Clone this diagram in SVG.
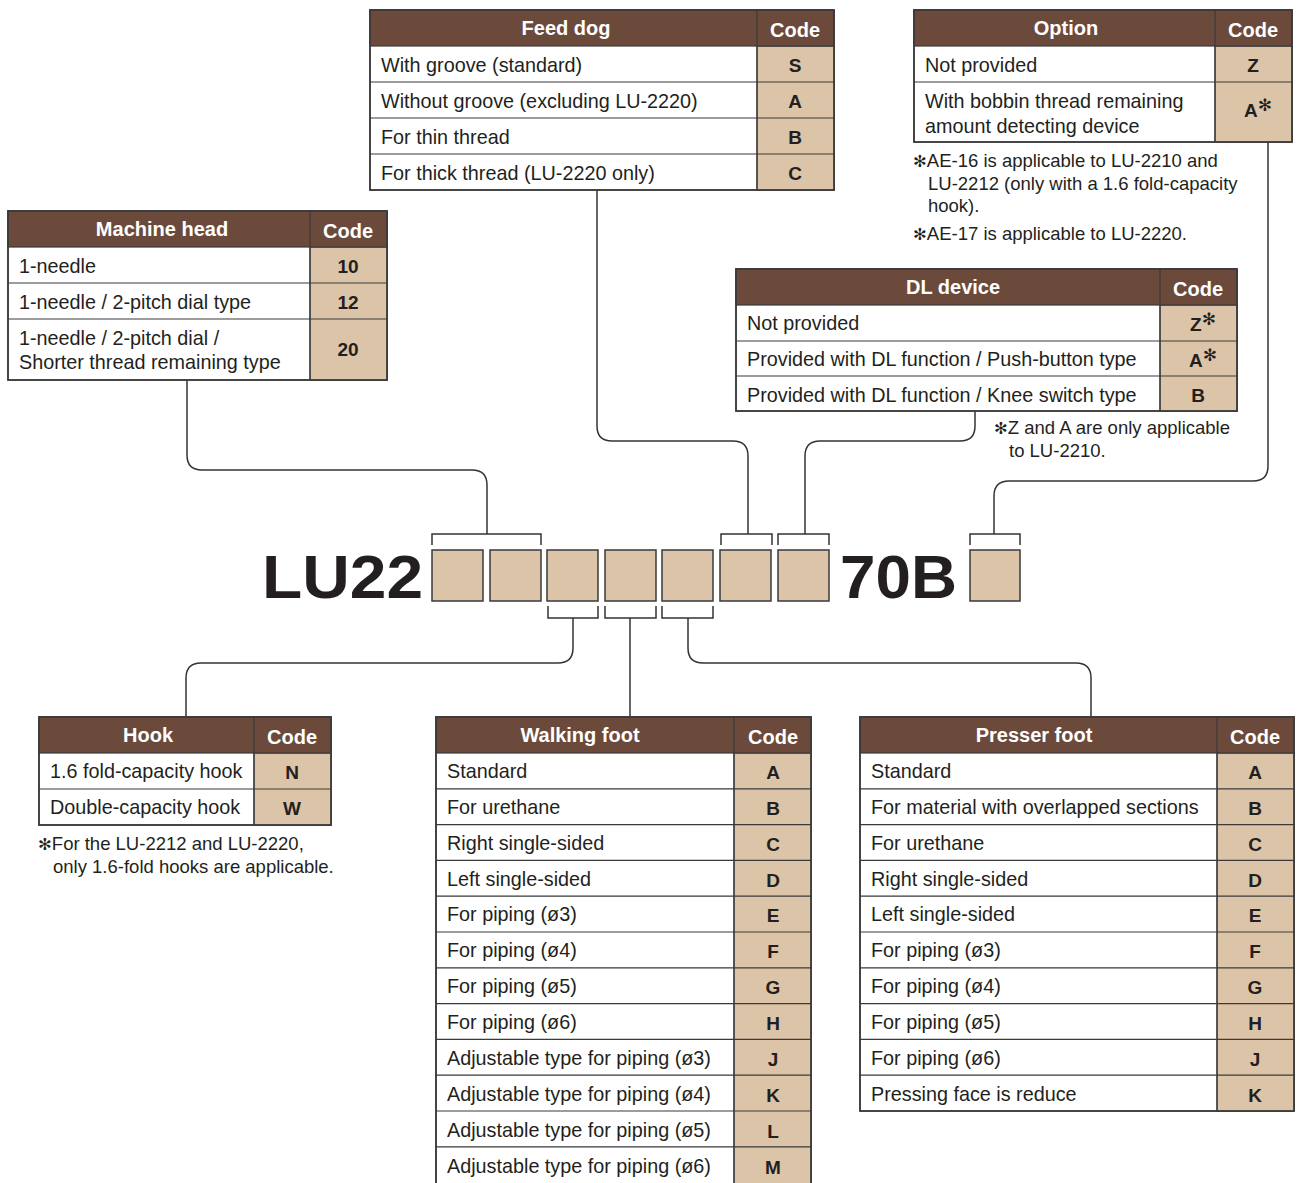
<svg xmlns="http://www.w3.org/2000/svg" width="1297" height="1183" viewBox="0 0 1297 1183">
<style>
text{font-family:"Liberation Sans",Arial,sans-serif;fill:#231f20}
.tb{fill:#fff;stroke:#3a3a3a;stroke-width:1.5}
.hd{fill:#6b4a3c;stroke:#3a3a3a;stroke-width:1.2}
.cd{fill:#dcc4a8;stroke:#3a3a3a;stroke-width:1.2}
.ln{stroke:#3a3a3a;stroke-width:1.2;fill:none}
.ht{font-size:20px;font-weight:bold;fill:#fff;text-anchor:middle}
.bt{font-size:19.8px}
.ct{font-size:19px;font-weight:bold;text-anchor:middle}
.nt{font-size:18.5px}
.ast{font-family:"DejaVu Sans",sans-serif}
.box{fill:#dcc4a8;stroke:#3a3a3a;stroke-width:1.5}
.big{font-size:62px;font-weight:bold;fill:#231f20}
#connectors path{fill:none;stroke:#333;stroke-width:1.5}
</style>

<g id="connectors">
<path d="M187,380 V455 Q187,470 202,470 H472 Q487,470 487,485 V534"/>
<path d="M432,545 V534 H541 V545"/>
<path d="M597,190 V426 Q597,441 612,441 H733 Q748,441 748,456 V534"/>
<path d="M721,545 V534 H772 V545"/>
<path d="M975,411 V426 Q975,441 960,441 H820 Q805,441 805,456 V534"/>
<path d="M778,545 V534 H829 V545"/>
<path d="M1268,142 V466 Q1268,481 1253,481 H1009 Q994,481 994,496 V534"/>
<path d="M970,545 V534 H1020 V545"/>
<path d="M548,606 V618 H598 V606"/>
<path d="M573,618 V648 Q573,663 558,663 H201 Q186,663 186,678 V717"/>
<path d="M605,606 V618 H656 V606"/>
<path d="M630,618 V717"/>
<path d="M662,606 V618 H713 V606"/>
<path d="M688,618 V648 Q688,663 703,663 H1076 Q1091,663 1091,678 V717"/>
</g>

<g id="model">
<text class="big" x="262" y="598" textLength="161" lengthAdjust="spacingAndGlyphs">LU22</text>
<rect class="box" x="432" y="550" width="51" height="51"/>
<rect class="box" x="490" y="550" width="51" height="51"/>
<rect class="box" x="547" y="550" width="51" height="51"/>
<rect class="box" x="605" y="550" width="51" height="51"/>
<rect class="box" x="662" y="550" width="51" height="51"/>
<rect class="box" x="720" y="550" width="51" height="51"/>
<rect class="box" x="778" y="550" width="51" height="51"/>
<text class="big" x="840" y="598" textLength="117" lengthAdjust="spacingAndGlyphs">70B</text>
<rect class="box" x="970" y="550" width="50" height="51"/>
</g>

<g id="feed-dog">
<rect class="tb" x="370" y="10" width="464" height="180"/>
<rect class="cd" x="757" y="46" width="77" height="144"/>
<rect class="hd" x="370" y="10" width="464" height="36"/>
<path class="ln" d="M757,10 V190 M370,82 H834 M370,118 H834 M370,154 H834"/>
<rect x="370" y="10" width="464" height="180" fill="none" stroke="#3a3a3a" stroke-width="1.5"/>
<text class="ht" x="566" y="35">Feed dog</text>
<text class="ht" x="795" y="37">Code</text>
<text class="bt" x="381" y="72">With groove (standard)</text>
<text class="bt" x="381" y="108">Without groove (excluding LU-2220)</text>
<text class="bt" x="381" y="144">For thin thread</text>
<text class="bt" x="381" y="180">For thick thread (LU-2220 only)</text>
<text class="ct" x="795" y="72">S</text>
<text class="ct" x="795" y="108">A</text>
<text class="ct" x="795" y="144">B</text>
<text class="ct" x="795" y="180">C</text>
</g>

<g id="option">
<rect class="tb" x="914" y="10" width="378" height="132"/>
<rect class="cd" x="1215" y="46" width="77" height="96"/>
<rect class="hd" x="914" y="10" width="378" height="36"/>
<path class="ln" d="M1215,10 V142 M914,82 H1292"/>
<rect x="914" y="10" width="378" height="132" fill="none" stroke="#3a3a3a" stroke-width="1.5"/>
<text class="ht" x="1066" y="35">Option</text>
<text class="ht" x="1253" y="37">Code</text>
<text class="bt" x="925" y="72">Not provided</text>
<text class="bt" x="925" y="108">With bobbin thread remaining</text>
<text class="bt" x="925" y="133">amount detecting device</text>
<text class="ct" x="1253" y="72">Z</text>
<text class="ct" x="1258" y="117">A<tspan class="ast" font-size="17" dy="-6">✻</tspan></text>
<text class="nt" x="913" y="167"><tspan class="ast" font-size="16.5">✻</tspan>AE-16 is applicable to LU-2210 and</text>
<text class="nt" x="928" y="190">LU-2212 (only with a 1.6 fold-capacity</text>
<text class="nt" x="928" y="212">hook).</text>
<text class="nt" x="913" y="240"><tspan class="ast" font-size="16.5">✻</tspan>AE-17 is applicable to LU-2220.</text>
</g>

<g id="machine-head">
<rect class="tb" x="8" y="211" width="379" height="169"/>
<rect class="cd" x="310" y="247" width="77" height="133"/>
<rect class="hd" x="8" y="211" width="379" height="36"/>
<path class="ln" d="M310,211 V380 M8,283 H387 M8,319 H387"/>
<rect x="8" y="211" width="379" height="169" fill="none" stroke="#3a3a3a" stroke-width="1.5"/>
<text class="ht" x="162" y="236">Machine head</text>
<text class="ht" x="348" y="238">Code</text>
<text class="bt" x="19" y="273">1-needle</text>
<text class="bt" x="19" y="309">1-needle / 2-pitch dial type</text>
<text class="bt" x="19" y="345">1-needle / 2-pitch dial /</text>
<text class="bt" x="19" y="369">Shorter thread remaining type</text>
<text class="ct" x="348" y="273">10</text>
<text class="ct" x="348" y="309">12</text>
<text class="ct" x="348" y="356">20</text>
</g>

<g id="dl-device">
<rect class="tb" x="736" y="269" width="501" height="142"/>
<rect class="cd" x="1160" y="305" width="77" height="106"/>
<rect class="hd" x="736" y="269" width="501" height="36"/>
<path class="ln" d="M1160,269 V411 M736,341 H1237 M736,376 H1237"/>
<rect x="736" y="269" width="501" height="142" fill="none" stroke="#3a3a3a" stroke-width="1.5"/>
<text class="ht" x="953" y="294">DL device</text>
<text class="ht" x="1198" y="296">Code</text>
<text class="bt" x="747" y="330">Not provided</text>
<text class="bt" x="747" y="366">Provided with DL function / Push-button type</text>
<text class="bt" x="747" y="402">Provided with DL function / Knee switch type</text>
<text class="ct" x="1203" y="331">Z<tspan class="ast" font-size="17" dy="-6">✻</tspan></text>
<text class="ct" x="1203" y="367">A<tspan class="ast" font-size="17" dy="-6">✻</tspan></text>
<text class="ct" x="1198" y="402">B</text>
<text class="nt" x="994" y="434"><tspan class="ast" font-size="16.5">✻</tspan>Z and A are only applicable</text>
<text class="nt" x="1009" y="457">to LU-2210.</text>
</g>

<g id="hook">
<rect class="tb" x="39" y="717" width="292" height="108"/>
<rect class="cd" x="254" y="753" width="77" height="72"/>
<rect class="hd" x="39" y="717" width="292" height="36"/>
<path class="ln" d="M254,717 V825 M39,789 H331"/>
<rect x="39" y="717" width="292" height="108" fill="none" stroke="#3a3a3a" stroke-width="1.5"/>
<text class="ht" x="148" y="742">Hook</text>
<text class="ht" x="292" y="744">Code</text>
<text class="bt" x="50" y="778">1.6 fold-capacity hook</text>
<text class="bt" x="50" y="814">Double-capacity hook</text>
<text class="ct" x="292" y="779">N</text>
<text class="ct" x="292" y="815">W</text>
<text class="nt" x="38" y="850"><tspan class="ast" font-size="16.5">✻</tspan>For the LU-2212 and LU-2220,</text>
<text class="nt" x="53" y="873">only 1.6-fold hooks are applicable.</text>
</g>

<g id="walking-foot">
<rect class="tb" x="436" y="717" width="375" height="470"/>
<rect class="cd" x="734" y="753" width="77" height="434"/>
<rect class="hd" x="436" y="717" width="375" height="36"/>
<path class="ln" d="M734,717 V1187 M436,788.8 H811 M436,824.6 H811 M436,860.4 H811 M436,896.2 H811 M436,932 H811 M436,967.8 H811 M436,1003.6 H811 M436,1039.4 H811 M436,1075.2 H811 M436,1111 H811 M436,1146.8 H811"/>
<rect x="436" y="717" width="375" height="470" fill="none" stroke="#3a3a3a" stroke-width="1.5"/>
<text class="ht" x="580" y="742">Walking foot</text>
<text class="ht" x="773" y="744">Code</text>
<text class="bt" x="447" y="778">Standard</text>
<text class="bt" x="447" y="814">For urethane</text>
<text class="bt" x="447" y="850">Right single-sided</text>
<text class="bt" x="447" y="886">Left single-sided</text>
<text class="bt" x="447" y="921">For piping (ø3)</text>
<text class="bt" x="447" y="957">For piping (ø4)</text>
<text class="bt" x="447" y="993">For piping (ø5)</text>
<text class="bt" x="447" y="1029">For piping (ø6)</text>
<text class="bt" x="447" y="1065">Adjustable type for piping (ø3)</text>
<text class="bt" x="447" y="1101">Adjustable type for piping (ø4)</text>
<text class="bt" x="447" y="1137">Adjustable type for piping (ø5)</text>
<text class="bt" x="447" y="1173">Adjustable type for piping (ø6)</text>
<text class="ct" x="773" y="779">A</text>
<text class="ct" x="773" y="815">B</text>
<text class="ct" x="773" y="851">C</text>
<text class="ct" x="773" y="887">D</text>
<text class="ct" x="773" y="922">E</text>
<text class="ct" x="773" y="958">F</text>
<text class="ct" x="773" y="994">G</text>
<text class="ct" x="773" y="1030">H</text>
<text class="ct" x="773" y="1066">J</text>
<text class="ct" x="773" y="1102">K</text>
<text class="ct" x="773" y="1138">L</text>
<text class="ct" x="773" y="1174">M</text>
</g>

<g id="presser-foot">
<rect class="tb" x="860" y="717" width="434" height="394"/>
<rect class="cd" x="1217" y="753" width="77" height="358"/>
<rect class="hd" x="860" y="717" width="434" height="36"/>
<path class="ln" d="M1217,717 V1111 M860,788.8 H1294 M860,824.6 H1294 M860,860.4 H1294 M860,896.2 H1294 M860,932 H1294 M860,967.8 H1294 M860,1003.6 H1294 M860,1039.4 H1294 M860,1075.2 H1294"/>
<rect x="860" y="717" width="434" height="394" fill="none" stroke="#3a3a3a" stroke-width="1.5"/>
<text class="ht" x="1034" y="742">Presser foot</text>
<text class="ht" x="1255" y="744">Code</text>
<text class="bt" x="871" y="778">Standard</text>
<text class="bt" x="871" y="814">For material with overlapped sections</text>
<text class="bt" x="871" y="850">For urethane</text>
<text class="bt" x="871" y="886">Right single-sided</text>
<text class="bt" x="871" y="921">Left single-sided</text>
<text class="bt" x="871" y="957">For piping (ø3)</text>
<text class="bt" x="871" y="993">For piping (ø4)</text>
<text class="bt" x="871" y="1029">For piping (ø5)</text>
<text class="bt" x="871" y="1065">For piping (ø6)</text>
<text class="bt" x="871" y="1101">Pressing face is reduce</text>
<text class="ct" x="1255" y="779">A</text>
<text class="ct" x="1255" y="815">B</text>
<text class="ct" x="1255" y="851">C</text>
<text class="ct" x="1255" y="887">D</text>
<text class="ct" x="1255" y="922">E</text>
<text class="ct" x="1255" y="958">F</text>
<text class="ct" x="1255" y="994">G</text>
<text class="ct" x="1255" y="1030">H</text>
<text class="ct" x="1255" y="1066">J</text>
<text class="ct" x="1255" y="1102">K</text>
</g>
</svg>
